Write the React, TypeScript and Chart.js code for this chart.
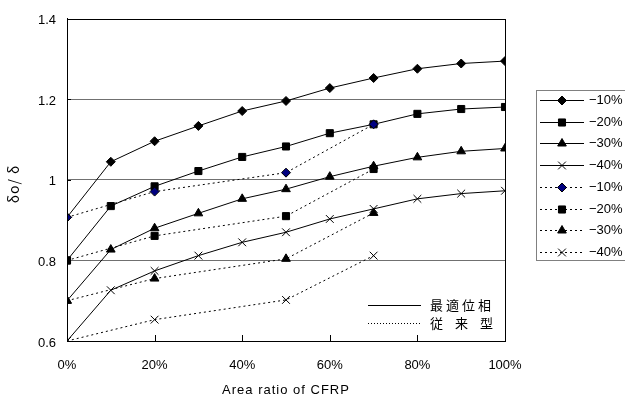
import { useEffect, useRef } from 'react';
import { Chart, registerables } from 'chart.js';
Chart.register(...registerables);

// ---- data ----
const xTicks = [0, 20, 40, 60, 80, 100];
const yTicks = [0.6, 0.8, 1.0, 1.2, 1.4];
const optimalX = [0, 10, 20, 30, 40, 50, 60, 70, 80, 90, 100];
const conventionalX = [0, 20, 50, 70];
const opt10 = [0.907, 1.045, 1.096, 1.134, 1.171, 1.196, 1.228, 1.253, 1.276, 1.289, 1.295];
const opt20 = [0.8, 0.935, 0.984, 1.022, 1.057, 1.083, 1.116, 1.138, 1.164, 1.176, 1.181];
const opt30 = [0.7, 0.827, 0.88, 0.917, 0.953, 0.977, 1.008, 1.034, 1.056, 1.071, 1.078];
const opt40 = [0.6, 0.726, 0.774, 0.812, 0.845, 0.87, 0.903, 0.928, 0.953, 0.966, 0.973];
const conv10 = [0.907, 0.971, 1.018, 1.138];
const conv20 = [0.8, 0.861, 0.91, 1.027];
const conv30 = [0.7, 0.755, 0.804, 0.918];
const conv40 = [0.6, 0.653, 0.702, 0.812];
const seriesLabels = ['−10%', '−20%', '−30%', '−40%'];
const innerLegendLabels = ['最適位相', '従来型'];
const xTitle = 'Area ratio of CFRP';
const yTitle = 'δo/ δ';

const styles = ['rectRot', 'rect', 'triangle', 'crossRot'];
const radii = [4.5, 5, 5, 5.5];
const dash = [2, 3];

function pts(xs: number[], ys: number[]) {
  return xs.map((x, i) => ({ x, y: ys[i] }));
}

function drawMarker(ctx: CanvasRenderingContext2D, style: string, x: number, y: number, r: number, fill: string) {
  ctx.save();
  ctx.setLineDash([]);
  ctx.fillStyle = fill;
  ctx.strokeStyle = '#000';
  ctx.lineWidth = 1;
  ctx.beginPath();
  if (style === 'rectRot') {
    ctx.moveTo(x - r, y); ctx.lineTo(x, y - r); ctx.lineTo(x + r, y); ctx.lineTo(x, y + r); ctx.closePath();
    ctx.fill(); ctx.stroke();
  } else if (style === 'rect') {
    const s = r * Math.SQRT1_2;
    ctx.rect(x - s, y - s, 2 * s, 2 * s); ctx.fill(); ctx.stroke();
  } else if (style === 'triangle') {
    for (let k = 0; k < 3; k++) {
      const a = (k * 2 * Math.PI) / 3;
      const px = x + Math.sin(a) * r, py = y - Math.cos(a) * r;
      if (k === 0) ctx.moveTo(px, py); else ctx.lineTo(px, py);
    }
    ctx.closePath(); ctx.fill(); ctx.stroke();
  } else {
    const o = r * Math.SQRT1_2;
    ctx.moveTo(x - o, y - o); ctx.lineTo(x + o, y + o);
    ctx.moveTo(x + o, y - o); ctx.lineTo(x - o, y + o);
    ctx.stroke();
  }
  ctx.restore();
}

const decorPlugin = {
  id: 'decor',
  afterDraw(chart: any) {
    const ctx: CanvasRenderingContext2D = chart.ctx;
    const { left, right, top, bottom } = chart.chartArea;
    const xs = chart.scales.x;
    const ys = chart.scales.y;
    ctx.save();
    // plot frame
    ctx.strokeStyle = '#000';
    ctx.lineWidth = 1;
    ctx.setLineDash([]);
    ctx.strokeRect(Math.round(left) + 0.5, Math.round(top) + 0.5, Math.round(right - left), Math.round(bottom - top));
    // inward ticks
    ctx.beginPath();
    xTicks.forEach((v) => {
      const px = Math.round(xs.getPixelForValue(v)) + 0.5;
      ctx.moveTo(px, bottom); ctx.lineTo(px, bottom - 6);
    });
    yTicks.forEach((v) => {
      const py = Math.round(ys.getPixelForValue(v)) + 0.5;
      ctx.moveTo(left, py); ctx.lineTo(left + 4, py);
    });
    ctx.stroke();

    // axis titles
    ctx.fillStyle = '#000';
    ctx.font = '13px "Liberation Sans", Arial, sans-serif';
    (ctx as any).letterSpacing = '1px';
    ctx.textAlign = 'center';
    ctx.textBaseline = 'middle';
    ctx.fillText(xTitle, (left + right) / 2, 390);
    (ctx as any).letterSpacing = '0px';
    ctx.save();
    ctx.translate(14, 184);
    ctx.rotate(-Math.PI / 2);
    ctx.font = '14px "Noto Sans CJK JP", sans-serif';
    (ctx as any).letterSpacing = '1px';
    ctx.fillText(yTitle, 0, 0);
    ctx.restore();
    (ctx as any).letterSpacing = '0px';

    // right legend box
    ctx.strokeStyle = '#808080';
    ctx.strokeRect(536.5, 90.5, 100, 170);
    ctx.font = '13px "Liberation Sans", Arial, sans-serif';
    ctx.textAlign = 'left';
    ctx.textBaseline = 'middle';
    for (let i = 0; i < 8; i++) {
      const y = Math.round(100 + i * 21.7) + 0.5;
      const k = i % 4;
      const dotted = i >= 4;
      ctx.strokeStyle = '#000';
      ctx.setLineDash(dotted ? dash : []);
      ctx.beginPath();
      ctx.moveTo(540, y); ctx.lineTo(584, y);
      ctx.stroke();
      ctx.setLineDash([]);
      drawMarker(ctx, styles[k], 562, y, radii[k], dotted && k === 0 ? '#000080' : '#000');
      ctx.fillStyle = '#000';
      ctx.fillText(seriesLabels[k], 589, y);
    }

    // inner legend
    ctx.strokeStyle = '#000';
    ctx.setLineDash([]);
    ctx.beginPath(); ctx.moveTo(368, 305.5); ctx.lineTo(421, 305.5); ctx.stroke();
    ctx.setLineDash([1, 2]);
    ctx.beginPath(); ctx.moveTo(368, 323.5); ctx.lineTo(421, 323.5); ctx.stroke();
    ctx.setLineDash([]);
    ctx.font = '13px "Noto Sans CJK JP", sans-serif';
    ctx.textAlign = 'left';
    const a = Array.from(innerLegendLabels[0]);
    a.forEach((ch, i) => ctx.fillText(ch, 430 + i * 16, 305));
    const b = Array.from(innerLegendLabels[1]);
    b.forEach((ch, i) => ctx.fillText(ch, 430 + i * 25, 323));
    ctx.restore();
  },
};

export default function App() {
  const ref = useRef<HTMLCanvasElement>(null);
  useEffect(() => {
    if (!ref.current) return;
    const solid = [opt10, opt20, opt30, opt40];
    const conv = [conv10, conv20, conv30, conv40];
    const datasets: any[] = [];
    solid.forEach((ys, k) => {
      datasets.push({
        label: seriesLabels[k],
        data: pts(optimalX, ys),
        borderColor: '#000',
        backgroundColor: '#000',
        borderWidth: 1,
        pointStyle: styles[k],
        pointRadius: radii[k],
        pointBorderColor: '#000',
        pointBackgroundColor: '#000',
        pointBorderWidth: 1,
        tension: 0,
        order: 1,
      });
    });
    conv.forEach((ys, k) => {
      datasets.push({
        label: seriesLabels[k] + ' ',
        data: pts(conventionalX, ys),
        borderColor: '#000',
        backgroundColor: k === 0 ? '#000080' : '#000',
        borderWidth: 1,
        borderDash: dash,
        pointStyle: styles[k],
        pointRadius: radii[k],
        pointBorderColor: '#000',
        pointBackgroundColor: k === 0 ? '#000080' : '#000',
        pointBorderWidth: 1,
        tension: 0,
        order: 0,
      });
    });
    const chart = new Chart(ref.current, {
      type: 'line',
      data: { datasets },
      options: {
        responsive: false,
        animation: false,
        devicePixelRatio: 1,
        layout: { padding: { top: 12, right: 120, left: 0, bottom: 0 } },
        plugins: { legend: { display: false }, tooltip: { enabled: false } },
        scales: {
          x: {
            type: 'linear',
            min: 0,
            max: 100,
            afterBuildTicks: (s: any) => { s.ticks = xTicks.map((v) => ({ value: v })); },
            afterFit: (s: any) => { s.height = 60; },
            grid: { display: false, drawTicks: false },
            border: { display: true, color: '#000' },
            ticks: {
              callback: (v: any) => v + '%',
              color: '#000',
              font: { family: '"Liberation Sans", Arial, sans-serif', size: 13 },
              padding: 17,
              maxRotation: 0,
            },
          },
          y: {
            type: 'linear',
            min: 0.6,
            max: 1.4,
            afterBuildTicks: (s: any) => { s.ticks = yTicks.map((v) => ({ value: v })); },
            afterFit: (s: any) => { s.width = 67; },
            grid: {
              drawTicks: false,
              color: (c: any) => (c.tick && (c.tick.value === 0.6 || c.tick.value === 1.4) ? 'rgba(0,0,0,0)' : '#707070'),
            },
            border: { display: true, color: '#000' },
            ticks: {
              callback: (v: any) => String(Number(Number(v).toFixed(1))),
              color: '#000',
              font: { family: '"Liberation Sans", Arial, sans-serif', size: 13 },
              padding: 11,
              labelOffset: 2,
            },
          },
        },
      },
      plugins: [decorPlugin],
    });
    return () => chart.destroy();
  }, []);
  return (
    <div style={{ position: 'absolute', left: 0, top: 0, width: 625, height: 401, background: '#fff' }}>
      <canvas ref={ref} width={625} height={401} style={{ display: 'block' }} />
    </div>
  );
}
